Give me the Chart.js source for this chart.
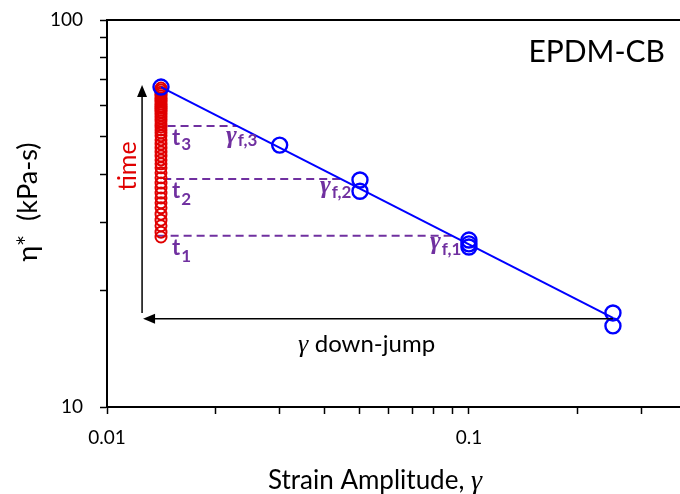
<!DOCTYPE html>
<html>
<head>
<meta charset="utf-8">
<script src="https://cdn.jsdelivr.net/npm/chart.js@4.4.0/dist/chart.umd.min.js"></script>
<style>
  body { margin: 0; background: #fff; overflow: hidden; }
  #wrap { width: 680px; height: 494px; }
</style>
</head>
<body>
<div id="wrap"><canvas id="etaChart"></canvas></div>
<script>
// values: strain amplitude and eta* (kPa-s)
const jumpStrain = 0.0141;
const timeEta = [27.5, 28.3, 29.4, 30.4, 31.5, 32.7, 33.7, 34.7, 35.7, 36.8, 37.9, 39.1, 40.3, 41.5,
                 42.5, 43.5, 44.5, 45.6, 46.7, 47.8, 49.0, 50.2, 51.1, 52.0, 52.9, 53.9, 54.8, 55.8,
                 56.8, 57.8, 58.5, 59.2, 59.9, 60.7, 61.4, 62.1, 62.9, 63.6, 64.4, 65.1, 65.9, 66.7];
const sweepStrain = [0.0141, 0.03, 0.05, 0.05, 0.1, 0.1, 0.1, 0.25, 0.25];
const sweepEta = [67.1, 47.5, 38.6, 36.1, 27.0, 26.4, 25.9, 17.5, 16.2];
const fitStrain = [0.0141, 0.25];
const fitEta = [67.1, 17.0];
// dashed guides t1, t2, t3 running over to gamma_f
const guideEta = [27.7, 38.8, 53.2];
const guideStart = [0.0138, 0.0143, 0.0147];
const guideEnd = [0.0903, 0.0455, 0.0229];
const xTickLabels = [0.01, 0.1];
const yTickLabels = [10, 100];

const FONT = 'Lato, "Open Sans", sans-serif';
const GREEK = '"Liberation Serif", "DejaVu Serif", serif';
const PURPLE = '#7030A0';

function pts(xs, ys) {
    return xs.map((x, i) => ({ x: x, y: ys[i] }));
}

function keepWholeTicks(scale) {
    scale.ticks = scale.ticks.filter(t => {
        const e = Math.floor(Math.log10(t.value) + 1e-9);
        const s = t.value / Math.pow(10, e);
        return Math.abs(s - Math.round(s)) < 1e-6;
    });
}

// main text + subscript, left aligned at x
function subText(ctx, main, mainFont, sub, subFont, x, y, subY, color) {
    ctx.fillStyle = color;
    ctx.textAlign = 'left';
    ctx.textBaseline = 'alphabetic';
    ctx.font = mainFont;
    ctx.fillText(main, x, y);
    const w = ctx.measureText(main).width;
    ctx.font = subFont;
    ctx.fillText(sub, x + w + 1, subY);
}

function arrowHead(ctx, x, y, dir) {
    ctx.beginPath();
    if (dir === 'up') {
        ctx.moveTo(x, y); ctx.lineTo(x - 5, y + 12); ctx.lineTo(x + 5, y + 12);
    } else {
        ctx.moveTo(x, y); ctx.lineTo(x + 12, y - 5); ctx.lineTo(x + 12, y + 5);
    }
    ctx.closePath();
    ctx.fill();
}

const extras = {
    id: 'extras',
    afterDatasetsDraw(chart) {
        const ctx = chart.ctx;
        const area = chart.chartArea;
        const xs = chart.scales.x, ys = chart.scales.y;
        ctx.save();

        // top frame line
        ctx.strokeStyle = '#000';
        ctx.lineWidth = 2;
        ctx.beginPath();
        ctx.moveTo(area.left, area.top);
        ctx.lineTo(area.right, area.top);
        ctx.stroke();

        // time arrow and gamma down-jump arrow
        const ax = xs.getPixelForValue(0.0125);
        const ay = ys.getPixelForValue(16.9);
        ctx.lineWidth = 1.5;
        ctx.fillStyle = '#000';
        ctx.beginPath();
        ctx.moveTo(ax, ys.getPixelForValue(17.5));
        ctx.lineTo(ax, ys.getPixelForValue(67.9) + 8);
        ctx.stroke();
        arrowHead(ctx, ax, ys.getPixelForValue(67.9), 'up');
        ctx.beginPath();
        ctx.moveTo(xs.getPixelForValue(0.25), ay);
        ctx.lineTo(ax + 8, ay);
        ctx.stroke();
        arrowHead(ctx, ax + 1, ay, 'left');

        // t labels
        const tb = 'bold 22px ' + FONT, sb = 'bold 17px ' + FONT;
        subText(ctx, 't', tb, '3', sb, 172, 145, 150, PURPLE);
        subText(ctx, 't', tb, '2', sb, 172, 198, 205, PURPLE);
        subText(ctx, 't', tb, '1', sb, 172, 255, 262, PURPLE);

        // gamma_f labels
        const gf = 'bold italic 26px ' + GREEK, gs = 'bold 17px ' + FONT;
        subText(ctx, '\u03B3', gf, 'f,3', gs, 226, 143, 146, PURPLE);
        subText(ctx, '\u03B3', gf, 'f,2', gs, 320, 193, 198, PURPLE);
        subText(ctx, '\u03B3', gf, 'f,1', gs, 430, 249, 255, PURPLE);

        // time (rotated, red)
        ctx.save();
        ctx.translate(128, 166);
        ctx.rotate(-Math.PI / 2);
        ctx.fillStyle = '#E00000';
        ctx.font = '25px ' + FONT;
        ctx.textAlign = 'center';
        ctx.textBaseline = 'middle';
        ctx.fillText('time', 0, 0);
        ctx.restore();

        // gamma down-jump
        ctx.fillStyle = '#000';
        ctx.textAlign = 'left';
        ctx.textBaseline = 'alphabetic';
        ctx.font = 'italic 26px ' + GREEK;
        ctx.fillText('\u03B3', 298, 352);
        const gw = ctx.measureText('\u03B3 ').width;
        ctx.font = '24px ' + FONT;
        ctx.fillText('down-jump', 298 + gw, 352);

        // sample name
        ctx.font = '30px ' + FONT;
        ctx.textAlign = 'right';
        ctx.fillText('EPDM-CB', 665, 62);

        // x axis title
        ctx.textAlign = 'left';
        ctx.font = '26px ' + FONT;
        const part = 'Strain Amplitude, ';
        const pw = ctx.measureText(part).width;
        ctx.font = 'italic 28px ' + GREEK;
        const gw2 = ctx.measureText('\u03B3').width;
        const x0 = 375 - (pw + gw2) / 2;
        ctx.font = '26px ' + FONT;
        ctx.fillText(part, x0, 489);
        ctx.font = 'italic 28px ' + GREEK;
        ctx.fillText('\u03B3', x0 + pw, 489);

        // y axis title
        ctx.save();
        ctx.translate(28, 202);
        ctx.rotate(-Math.PI / 2);
        ctx.font = '27px ' + FONT;
        ctx.textAlign = 'center';
        ctx.textBaseline = 'middle';
        ctx.fillText('\u03B7*  (kPa-s)', 0, 0);
        ctx.restore();

        ctx.restore();
    }
};

const guideSets = guideEta.map((eta, i) => ({
    type: 'line',
    data: pts([guideStart[i], guideEnd[i]], [eta, eta]),
    borderColor: PURPLE,
    borderWidth: 2,
    borderDash: [8, 5],
    pointRadius: 0,
    showLine: true
}));

new Chart(document.getElementById('etaChart'), {
    type: 'scatter',
    data: {
        datasets: [{
            label: 'sweep',
            data: pts(sweepStrain, sweepEta),
            borderColor: '#0000FF',
            backgroundColor: 'rgba(0,0,0,0)',
            borderWidth: 2.4,
            pointRadius: 7.5
        }, {
            label: 'fit',
            type: 'line',
            data: pts(fitStrain, fitEta),
            borderColor: '#0000FF',
            borderWidth: 2,
            pointRadius: 0,
            showLine: true
        }, {
            label: 'time',
            data: timeEta.map(v => ({ x: jumpStrain, y: v })),
            borderColor: '#E00000',
            backgroundColor: 'rgba(0,0,0,0)',
            borderWidth: 2,
            pointRadius: 5.5
        }, ...guideSets]
    },
    options: {
        responsive: true,
        maintainAspectRatio: false,
        animation: false,
        layout: { autoPadding: false, padding: { top: 20, right: 0, left: 0, bottom: 0 } },
        plugins: { legend: { display: false }, tooltip: { enabled: false } },
        scales: {
            x: {
                type: 'logarithmic',
                min: 0.01,
                max: 0.383,
                afterBuildTicks: keepWholeTicks,
                afterFit: s => { s.height = 87; s.paddingLeft = 0; s.paddingRight = 0; },
                border: { display: true, color: '#000', width: 2 },
                grid: { drawOnChartArea: false, tickLength: 7, tickColor: '#000', tickWidth: 1.5 },
                ticks: {
                    autoSkip: false, maxRotation: 0, padding: 12, color: '#000',
                    font: { family: FONT, size: 19 },
                    callback: v => xTickLabels.includes(v) ? String(v) : ''
                }
            },
            y: {
                type: 'logarithmic',
                min: 10,
                max: 100,
                afterBuildTicks: keepWholeTicks,
                afterFit: s => { s.width = 107; s.paddingTop = 0; s.paddingBottom = 0; },
                border: { display: true, color: '#000', width: 2 },
                grid: { drawOnChartArea: false, tickLength: 7, tickColor: '#000', tickWidth: 1.5 },
                ticks: {
                    autoSkip: false, padding: 17, color: '#000',
                    font: { family: FONT, size: 19 },
                    callback: v => yTickLabels.includes(v) ? String(v) : ''
                }
            }
        }
    },
    plugins: [extras]
});
</script>
</body>
</html>
